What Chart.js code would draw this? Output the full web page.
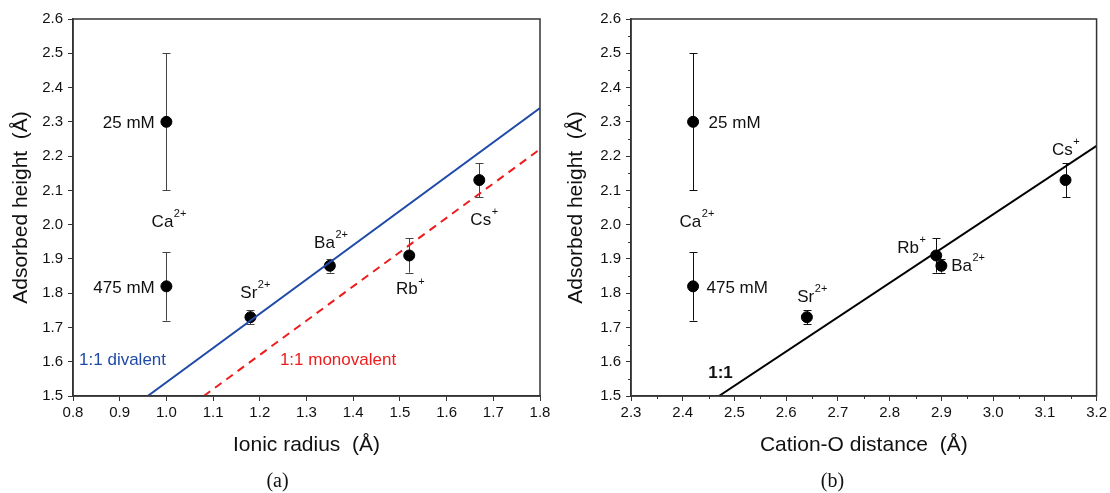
<!DOCTYPE html>
<html>
<head>
<meta charset="utf-8">
<script src="https://cdn.jsdelivr.net/npm/chart.js@4.4.1/dist/chart.umd.min.js"></script>
<style>
  body { margin: 0; background: #fff; }
  .row { display: flex; width: 1110px; height: 493px; }
  canvas { display: block; }
</style>
</head>
<body>
<div class="row">
  <canvas id="chartA" width="555" height="493"></canvas>
  <canvas id="chartB" width="555" height="493"></canvas>
</div>
<script>
// --- data ---
const ions = ['Ca2+ 25 mM', 'Ca2+ 475 mM', 'Sr2+', 'Ba2+', 'Rb+', 'Cs+'];
const ionicRadius = [1.00, 1.00, 1.18, 1.35, 1.52, 1.67];
const cationODistance = [2.42, 2.42, 2.64, 2.90, 2.89, 3.14];
const adsorbedHeight = [2.30, 1.82, 1.73, 1.88, 1.91, 2.13];
const errLow = [2.10, 1.72, 1.71, 1.86, 1.86, 2.08];
const errHigh = [2.50, 1.92, 1.75, 1.90, 1.96, 2.18];

// 1:1 reference lines (end points)
const divalentX = [0.96, 1.80];
const divalentY = [1.50, 2.34];
const monovalentX = [1.08, 1.80];
const monovalentY = [1.50, 2.22];
const oneToOneX = [2.47, 3.20];
const oneToOneY = [1.50, 2.23];

const xTicksA = [0.8, 1.8, 0.1];
const xTicksB = [2.3, 3.2, 0.1];
const yTicks = [1.5, 2.6, 0.1];

const FONT = '"Liberation Sans", Arial, sans-serif';
const AXIS = '#333';

const toPoints = (xs, ys) => xs.map((x, i) => ({ x: x, y: ys[i] }));

// text annotations, placed in data coordinates
const labelsA = [
    { x: 0.975, y: 2.297, text: '25 mM', align: 'right' },
    { x: 1.005, y: 2.008, text: 'Ca', sup: '2+' },
    { x: 0.975, y: 1.815, text: '475 mM', align: 'right' },
    { x: 1.19, y: 1.80, text: 'Sr', sup: '2+' },
    { x: 1.352, y: 1.946, text: 'Ba', sup: '2+' },
    { x: 1.522, y: 1.81, text: 'Rb', sup: '+' },
    { x: 1.68, y: 2.013, text: 'Cs', sup: '+' },
    { x: 0.813, y: 1.605, text: '1:1 divalent', align: 'left', color: '#1f4aa8' },
    { x: 1.243, y: 1.605, text: '1:1 monovalent', align: 'left', color: '#ee1c1c' }
];
const labelsB = [
    { x: 2.45, y: 2.297, text: '25 mM', align: 'left' },
    { x: 2.427, y: 2.008, text: 'Ca', sup: '2+' },
    { x: 2.446, y: 1.815, text: '475 mM', align: 'left' },
    { x: 2.65, y: 1.789, text: 'Sr', sup: '2+' },
    { x: 2.842, y: 1.932, text: 'Rb', sup: '+' },
    { x: 2.919, y: 1.879, text: 'Ba', sup: '2+', align: 'left' },
    { x: 3.14, y: 2.218, text: 'Cs', sup: '+' },
    { x: 2.473, y: 1.567, text: '1:1', bold: true }
];

// frame, minor ticks, error bars, labels, caption
const decorPlugin = {
    id: 'decor',
    beforeDatasetsDraw(chart, args, opts) {
        const ctx = chart.ctx;
        const xs = chart.scales.x, ys = chart.scales.y;
        ctx.save();
        ctx.strokeStyle = opts.errColor;
        ctx.lineWidth = 1;
        opts.xData.forEach((xv, i) => {
            const px = Math.round(xs.getPixelForValue(xv)) + 0.5;
            const lo = ys.getPixelForValue(errLow[i]);
            const hi = ys.getPixelForValue(errHigh[i]);
            ctx.beginPath();
            ctx.moveTo(px, lo); ctx.lineTo(px, hi);
            ctx.moveTo(px - 4, Math.round(lo) + 0.5); ctx.lineTo(px + 4, Math.round(lo) + 0.5);
            ctx.moveTo(px - 4, Math.round(hi) + 0.5); ctx.lineTo(px + 4, Math.round(hi) + 0.5);
            ctx.stroke();
        });
        ctx.restore();
    },
    afterDraw(chart, args, opts) {
        const ctx = chart.ctx;
        const a = chart.chartArea;
        const xs = chart.scales.x, ys = chart.scales.y;
        ctx.save();
        ctx.strokeStyle = AXIS;
        ctx.lineWidth = 1.5;
        ctx.strokeRect(a.left, a.top, a.right - a.left, a.bottom - a.top);

        // minor ticks
        ctx.lineWidth = 1;
        if (opts.minor) {
            for (let v = xs.min + 0.05; v < xs.max; v += 0.1) {
                const px = Math.round(xs.getPixelForValue(v)) + 0.5;
                ctx.beginPath(); ctx.moveTo(px, a.bottom); ctx.lineTo(px, a.bottom + 3); ctx.stroke();
            }
            for (let v = ys.min + 0.05; v < ys.max; v += 0.1) {
                const py = Math.round(ys.getPixelForValue(v)) + 0.5;
                ctx.beginPath(); ctx.moveTo(a.left, py); ctx.lineTo(a.left - 3, py); ctx.stroke();
            }
        }

        // annotations
        ctx.textBaseline = 'middle';
        opts.labels.forEach(l => {
            const base = (l.bold ? 'bold ' : '') + '17px ' + FONT;
            const supFont = '11px ' + FONT;
            ctx.font = base;
            const w1 = ctx.measureText(l.text).width;
            ctx.font = supFont;
            const w2 = l.sup ? ctx.measureText(l.sup).width : 0;
            const total = w1 + w2;
            let x = xs.getPixelForValue(l.x);
            const y = ys.getPixelForValue(l.y);
            if (l.align === 'right') x -= total;
            else if (l.align !== 'left') x -= total / 2;
            ctx.fillStyle = l.color || '#111';
            ctx.textAlign = 'left';
            ctx.font = base;
            ctx.fillText(l.text, x, y);
            if (l.sup) {
                ctx.font = supFont;
                ctx.fillText(l.sup, x + w1 + 0.5, y - 8);
            }
        });

        // sub-figure caption
        ctx.fillStyle = '#111';
        ctx.textAlign = 'center';
        ctx.font = '20px "Liberation Serif", "DejaVu Serif", serif';
        ctx.fillText(opts.caption, chart.width / 2, 482);
        ctx.restore();
    }
};

function makeChart(id, xData, xTicks, xTitle, lines, cfg) {
    const datasets = lines.map(l => ({
        type: 'line',
        data: l.data,
        showLine: true,
        borderColor: l.color,
        borderWidth: 2,
        borderDash: l.dash || [],
        pointRadius: 0,
        fill: false
    }));
    datasets.push({
        data: toPoints(xData, adsorbedHeight),
        backgroundColor: '#000',
        borderColor: '#000',
        pointRadius: 5.5,
        showLine: false
    });

    return new Chart(document.getElementById(id), {
        type: 'scatter',
        data: { datasets: datasets },
        options: {
            responsive: false,
            animation: false,
            devicePixelRatio: 1,
            layout: { padding: { top: 19, right: cfg.padRight, bottom: 30, left: 0 } },
            plugins: {
                legend: { display: false },
                tooltip: { enabled: false },
                decor: { xData: xData, labels: cfg.labels, caption: cfg.caption, minor: cfg.minor, errColor: cfg.errColor }
            },
            scales: {
                x: {
                    type: 'linear',
                    min: xTicks[0], max: xTicks[1],
                    afterFit: s => { s.height = 67; },
                    ticks: {
                        stepSize: xTicks[2],
                        autoSkip: false,
                        padding: 3,
                        color: '#111',
                        font: { family: FONT, size: 15 },
                        callback: v => v.toFixed(1)
                    },
                    grid: { drawOnChartArea: false, tickLength: 5, color: AXIS },
                    border: { color: AXIS, width: 1.5 },
                    title: {
                        display: true,
                        text: xTitle,
                        color: '#111',
                        font: { family: FONT, size: 21 },
                        padding: { top: 0, bottom: 5 }
                    }
                },
                y: {
                    min: yTicks[0], max: yTicks[1],
                    afterFit: s => { s.width = cfg.yWidth; },
                    ticks: {
                        stepSize: yTicks[2],
                        autoSkip: false,
                        padding: 5,
                        color: '#111',
                        font: { family: FONT, size: 15 },
                        callback: v => v.toFixed(1)
                    },
                    grid: { drawOnChartArea: false, tickLength: 5, color: AXIS },
                    border: { color: AXIS, width: 1.5 },
                    title: {
                        display: true,
                        text: 'Adsorbed height  (Å)',
                        color: '#111',
                        font: { family: FONT, size: 21 },
                        padding: { top: 9, bottom: 0 }
                    }
                }
            }
        },
        plugins: [decorPlugin]
    });
}

makeChart('chartA', ionicRadius, xTicksA, 'Ionic radius  (Å)', [
    { data: toPoints(divalentX, divalentY), color: '#1f4aa8' },
    { data: toPoints(monovalentX, monovalentY), color: '#ee1c1c', dash: [8, 6] }
], { yWidth: 73, padRight: 15, labels: labelsA, caption: '(a)', minor: false, errColor: '#444' });

makeChart('chartB', cationODistance, xTicksB, 'Cation-O distance  (Å)', [
    { data: toPoints(oneToOneX, oneToOneY), color: '#000' }
], { yWidth: 76, padRight: 12, labels: labelsB, caption: '(b)', minor: true, errColor: '#111' });
</script>
</body>
</html>
